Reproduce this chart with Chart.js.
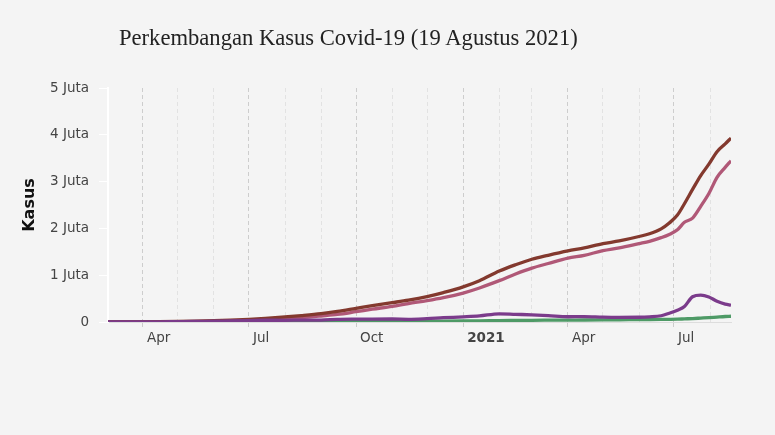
<!DOCTYPE html>
<html>
<head>
<meta charset="utf-8">
<script src="https://cdn.jsdelivr.net/npm/chart.js@4"></script>
<style>
  body { margin: 0; background: #f4f4f4; }
  #wrap { position: relative; width: 775px; height: 435px; }
  #judul { position: absolute; left: 119px; top: 27px; font: 22.6px "Liberation Serif", "Times New Roman", serif; line-height: 22px; color: #222; white-space: nowrap; }
  canvas { position: absolute; left: 0; top: 0; }
</style>
</head>
<body>
<div id="wrap">
  <canvas id="grafik" width="775" height="435"></canvas>
  <div id="judul">Perkembangan Kasus Covid-19 (19 Agustus 2021)</div>
</div>
<script>
const tanggal = [
  '2020-03-02', '2020-04-01', '2020-04-15', '2020-05-01', '2020-05-15', '2020-06-01', '2020-06-15',
  '2020-07-01', '2020-07-15', '2020-08-01', '2020-08-15', '2020-09-01', '2020-09-15', '2020-10-01',
  '2020-10-15', '2020-11-01', '2020-11-15', '2020-12-01', '2020-12-15', '2021-01-01', '2021-01-15',
  '2021-02-01', '2021-02-15', '2021-03-01', '2021-03-15', '2021-04-01', '2021-04-15', '2021-05-01',
  '2021-05-15', '2021-06-01', '2021-06-10', '2021-06-20', '2021-06-27', '2021-07-04', '2021-07-10',
  '2021-07-17', '2021-07-24', '2021-07-31', '2021-08-07', '2021-08-14', '2021-08-19'
];

const positif = [
  2, 1677, 5136, 10551, 16496, 26940, 39294,
  57770, 78572, 109936, 137468, 177571, 225030, 291182,
  349160, 412784, 467113, 543975, 629429, 751270, 882418,
  1089308, 1223930, 1341314, 1425044, 1517854, 1583182, 1672880,
  1731652, 1826527, 1885942, 1989909, 2115304, 2284084, 2527203,
  2832755, 3127826, 3372374, 3639616, 3804943, 3930300
];

const sembuh = [
  0, 103, 446, 1591, 3803, 7637, 15703,
  26667, 37636, 67919, 91321, 128057, 161065, 219873,
  273661, 334295, 394480, 454879, 518467, 618784, 727358,
  883682, 1026954, 1151915, 1249947, 1364676, 1425385, 1524932,
  1585175, 1674864, 1723596, 1801761, 1870417, 1970530, 2130000,
  2220000, 2471000, 2745000, 3091000, 3303000, 3446000
];

const aktif = [
  2, 1417, 4221, 8168, 11617, 17662, 21393,
  28227, 37226, 36824, 40076, 42009, 55000, 60453,
  63231, 64620, 57485, 72015, 91714, 110157, 129814,
  175349, 163793, 153074, 136524, 112124, 114891, 102296,
  98384, 101085, 110184, 133486, 188158, 253527, 330739,
  539000, 573500, 534000, 443000, 384000, 361700
];

const meninggal = [
  0, 157, 469, 792, 1076, 1641, 2198,
  2876, 3710, 5193, 6071, 7505, 8965, 10856,
  12268, 13869, 15148, 17081, 19248, 22329, 25246,
  30277, 33183, 36325, 38573, 41054, 42906, 45652,
  48093, 50578, 52162, 54662, 56729, 60027, 66464,
  73582, 83279, 93000, 105598, 117588, 122633
];

const namaBulan = ['Jan', 'Feb', 'Mar', 'Apr', 'May', 'Jun', 'Jul', 'Aug', 'Sep', 'Oct', 'Nov', 'Dec'];

// hari sejak 1 Jan 2020
const hari = (s) => {
  const [y, m, d] = s.split('-').map(Number);
  return (Date.UTC(y, m - 1, d) - Date.UTC(2020, 0, 1)) / 864e5;
};

const titik = (arr) => arr.map((v, i) => ({ x: hari(tanggal[i]), y: v }));

const bulanDariHari = (h) => {
  const t = new Date(Date.UTC(2020, 0, 1) + h * 864e5);
  return { y: t.getUTCFullYear(), m: t.getUTCMonth() };
};

const garis = (label, arr, color, order) => ({
  label,
  data: titik(arr),
  borderColor: color,
  backgroundColor: color,
  borderWidth: 3.3,
  pointRadius: 0,
  cubicInterpolationMode: 'monotone',
  fill: false,
  order
});

const fontSumbu = { family: '"DejaVu Sans", Verdana, sans-serif', size: 13.5 };

new Chart(document.getElementById('grafik'), {
  type: 'line',
  data: {
    datasets: [
      garis('Kasus Aktif', aktif, '#7b3b8b', 0),
      garis('Total Kasus', positif, '#83392e', 1),
      garis('Sembuh', sembuh, '#b05877', 2),
      garis('Meninggal', meninggal, '#4e9a66', 3)
    ]
  },
  options: {
    responsive: false,
    animation: false,
    layout: { padding: { top: 88, right: 44, bottom: 0, left: 0 } },
    plugins: {
      legend: { display: false },
      tooltip: { enabled: false }
    },
    scales: {
      x: {
        type: 'linear',
        min: hari('2020-03-02'),
        max: hari('2021-08-19'),
        afterFit: (s) => { s.height = 113; },
        afterBuildTicks: (s) => {
          const ticks = [];
          for (let y = 2020; y <= 2021; y++) {
            for (let m = 0; m < 12; m++) {
              const h = (Date.UTC(y, m, 1) - Date.UTC(2020, 0, 1)) / 864e5;
              if (h > s.min && h <= s.max) ticks.push({ value: h });
            }
          }
          s.ticks = ticks;
        },
        ticks: {
          color: '#444',
          align: 'start',
          labelOffset: 4,
          padding: 3,
          maxRotation: 0,
          autoSkip: false,
          font: (ctx) => {
            const b = ctx.tick ? bulanDariHari(ctx.tick.value) : { m: 1 };
            return { ...fontSumbu, weight: b.m === 0 ? 'bold' : 'normal' };
          },
          callback: (v) => {
            const b = bulanDariHari(v);
            if (b.m % 3 !== 0) return '';
            return b.m === 0 ? String(b.y) : namaBulan[b.m];
          }
        },
        grid: {
          drawOnChartArea: true,
          tickLength: 5,
          color: (ctx) => (ctx.tick && bulanDariHari(ctx.tick.value).m % 3 === 0) ? '#cdcdcd' : '#e2e2e2',
          tickColor: (ctx) => (ctx.tick && bulanDariHari(ctx.tick.value).m % 3 === 0) ? '#cccccc' : 'rgba(0,0,0,0)',
          tickBorderDash: []
        },
        border: { display: true, color: '#dddddd', width: 1, dash: [4, 3] }
      },
      y: {
        min: 0,
        max: 5000000,
        afterFit: (s) => { s.width = 108; },
        ticks: {
          stepSize: 1000000,
          color: '#444',
          padding: 10,
          font: fontSumbu,
          callback: (v) => v === 0 ? '0' : (v / 1000000) + ' Juta'
        },
        grid: {
          drawOnChartArea: false,
          tickLength: 9,
          tickColor: '#ffffff'
        },
        border: { display: true, color: '#ffffff', width: 2 },
        title: {
          display: true,
          text: 'Kasus',
          color: '#111',
          font: { family: '"DejaVu Sans", Verdana, sans-serif', size: 16, weight: 'bold' },
          padding: { top: 20, bottom: 0 }
        }
      }
    }
  }
});
</script>
</body>
</html>
